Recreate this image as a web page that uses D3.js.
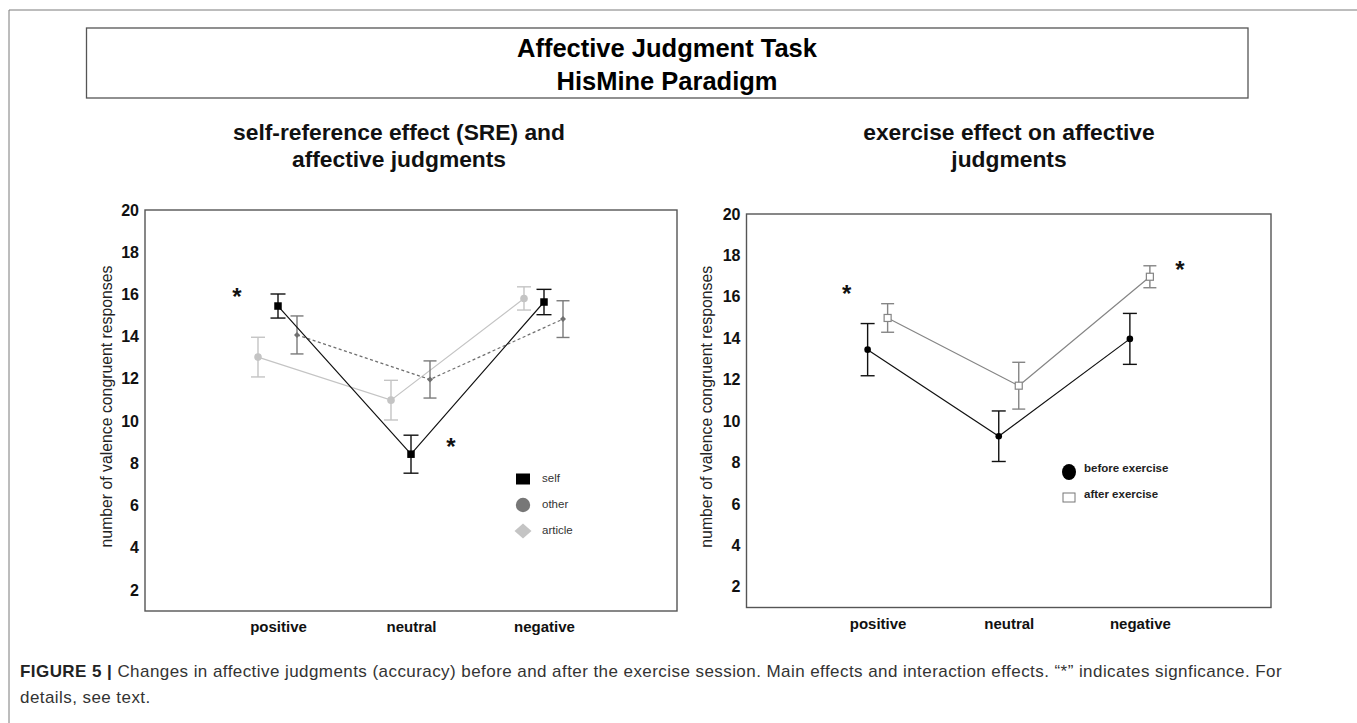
<!DOCTYPE html>
<html>
<head>
<meta charset="utf-8">
<script src="https://cdn.jsdelivr.net/npm/d3@7"></script>
<style>
  html, body { margin: 0; padding: 0; background: #fff; }
  svg { display: block; font-family: "Liberation Sans", Arial, Helvetica, sans-serif; }
</style>
</head>
<body>
<svg id="chart" width="1357" height="723"></svg>
<script>
// ---------- data ----------
const categories = ["positive", "neutral", "negative"];
const yTicks = [2, 4, 6, 8, 10, 12, 14, 16, 18, 20];

// left panel: self-reference effect
const selfMean = [15.45, 8.43, 15.64];
const selfErr = [0.57, 0.90, 0.60];
const otherMean = [14.08, 11.97, 14.83];
const otherErr = [0.90, 0.88, 0.87];
const articleMean = [13.03, 10.99, 15.81];
const articleErr = [0.94, 0.94, 0.55];

// right panel: exercise effect
const beforeMean = [13.45, 9.27, 13.97];
const beforeErr = [1.26, 1.22, 1.23];
const afterMean = [14.98, 11.71, 16.97];
const afterErr = [0.69, 1.13, 0.53];

// significance markers: [category, value, offset]
const leftStars = [["positive", 16.08, -41], ["neutral", 8.97, 40]];
const rightStars = [["positive", 16.32, -31], ["negative", 17.48, 40]];

const titleLines = ["Affective Judgment Task", "HisMine Paradigm"];
const leftSubtitle = ["self-reference effect (SRE) and", "affective judgments"];
const rightSubtitle = ["exercise effect on affective", "judgments"];
const yTitle = "number of valence congruent responses";

// ---------- setup ----------
const svg = d3.select("#chart");
const FONT = '"Liberation Sans", Arial, Helvetica, sans-serif';

// outer frame
svg.append("path").attr("d", "M9,723 V10 H1357").attr("fill", "none")
  .attr("stroke", "#7a7a7a").attr("stroke-width", 1);

// title box
svg.append("rect").attr("x", 86.5).attr("y", 28).attr("width", 1161.5).attr("height", 70)
  .attr("fill", "none").attr("stroke", "#555").attr("stroke-width", 1.3);
svg.selectAll("text.title").data(titleLines).join("text")
  .attr("class", "title")
  .attr("x", 667).attr("y", (d, i) => 57 + i * 33)
  .attr("text-anchor", "middle").attr("font-weight", "bold").attr("font-size", 25.5)
  .attr("fill", "#000").text(d => d);

function panel(opts) {
  const g = svg.append("g");
  const x = d3.scalePoint().domain(categories).range([opts.x0, opts.x1]).padding(1);
  const y = d3.scaleLinear().domain([1, 20]).range([opts.y1, opts.y0]);

  g.selectAll("text.sub").data(opts.subtitle).join("text")
    .attr("class", "sub")
    .attr("x", opts.subX).attr("y", (d, i) => 140 + i * 27)
    .attr("text-anchor", "middle").attr("font-weight", "bold").attr("font-size", 22.8)
    .attr("fill", "#111").text(d => d);

  g.append("rect").attr("x", opts.x0).attr("y", opts.y0)
    .attr("width", opts.x1 - opts.x0).attr("height", opts.y1 - opts.y0)
    .attr("fill", "none").attr("stroke", "#555").attr("stroke-width", 1.4);

  const ya = g.append("g").attr("transform", `translate(${opts.x0 - 6},0)`)
    .call(d3.axisLeft(y).tickValues(yTicks).tickSize(0).tickPadding(0));
  ya.select(".domain").remove();
  ya.selectAll("text").attr("font-family", FONT).attr("font-size", 16)
    .attr("font-weight", "bold").attr("fill", "#111");

  const xa = g.append("g").attr("transform", `translate(0,${opts.y1})`)
    .call(d3.axisBottom(x).tickSize(0).tickPadding(0));
  xa.select(".domain").remove();
  xa.selectAll("text").attr("font-family", FONT).attr("font-size", 15)
    .attr("font-weight", "bold").attr("fill", "#111")
    .attr("dy", null).attr("y", opts.labelDy);

  g.append("text")
    .attr("transform", `translate(${opts.yTitleX},${(opts.y0 + opts.y1) / 2 - 4}) rotate(-90)`)
    .attr("text-anchor", "middle").attr("dominant-baseline", "middle")
    .attr("font-size", 15.8).attr("fill", "#222").text(yTitle);

  return { g, x, y };
}

function drawSeries(p, s) {
  const pts = categories.map((c, i) => ({ cx: p.x(c) + s.dx, m: s.mean[i], e: s.err[i] }));
  const line = d3.line().x(d => d.cx).y(d => p.y(d.m));
  p.g.append("path").datum(pts).attr("d", line).attr("fill", "none")
    .attr("stroke", s.lineColor).attr("stroke-width", s.lineWidth || 1.2)
    .attr("stroke-dasharray", s.dash || null);
  const eb = p.g.append("g").attr("stroke", s.errColor).attr("stroke-width", 1.4).attr("fill", "none");
  pts.forEach(d => {
    eb.append("line").attr("x1", d.cx).attr("x2", d.cx).attr("y1", p.y(d.m - d.e)).attr("y2", p.y(d.m + d.e));
    eb.append("line").attr("x1", d.cx - s.cap).attr("x2", d.cx + s.cap).attr("y1", p.y(d.m + d.e)).attr("y2", p.y(d.m + d.e));
    eb.append("line").attr("x1", d.cx - s.cap).attr("x2", d.cx + s.cap).attr("y1", p.y(d.m - d.e)).attr("y2", p.y(d.m - d.e));
  });
  const mk = p.g.append("g");
  pts.forEach(d => s.marker(mk, d.cx, p.y(d.m)));
}

function stars(p, list) {
  p.g.selectAll("text.star").data(list).join("text").attr("class", "star")
    .attr("x", d => p.x(d[0]) + d[2]).attr("y", d => p.y(d[1]) + 12)
    .attr("text-anchor", "middle").attr("font-size", 24).attr("font-weight", "bold")
    .attr("fill", "#111").text("*");
}

// ---------- left panel ----------
const L = panel({ x0: 145, x1: 677, y0: 210, y1: 611, subX: 399, subtitle: leftSubtitle, yTitleX: 108, labelDy: 21 });

const squareMk = (size, fill, stroke) => (g, cx, cy) =>
  g.append("rect").attr("x", cx - size / 2).attr("y", cy - size / 2).attr("width", size).attr("height", size)
    .attr("fill", fill).attr("stroke", stroke || "none").attr("stroke-width", 1.2);
const circleMk = (r, fill) => (g, cx, cy) =>
  g.append("circle").attr("cx", cx).attr("cy", cy).attr("r", r).attr("fill", fill);
const diamondMk = (w, h, fill) => (g, cx, cy) =>
  g.append("path").attr("d", `M${cx},${cy - h / 2} L${cx + w / 2},${cy} L${cx},${cy + h / 2} L${cx - w / 2},${cy} Z`).attr("fill", fill);

drawSeries(L, { mean: articleMean, err: articleErr, dx: -20, lineColor: "#c4c4c4", errColor: "#c4c4c4", cap: 7, marker: circleMk(3.8, "#c4c4c4") });
drawSeries(L, { mean: otherMean, err: otherErr, dx: 19, lineColor: "#6e6e6e", errColor: "#7a7a7a", dash: "3,2.5", cap: 6.5, marker: diamondMk(6, 6, "#707070") });
drawSeries(L, { mean: selfMean, err: selfErr, dx: 0, lineColor: "#111", errColor: "#111", cap: 7.5, marker: squareMk(7.5, "#000") });
stars(L, leftStars);

// left legend
const legL = L.g.append("g");
const legLItems = [
  { label: "self", draw: (g, cx, cy) => g.append("rect").attr("x", cx - 7).attr("y", cy - 5.5).attr("width", 14).attr("height", 11).attr("fill", "#000") },
  { label: "other", draw: circleMk(7.2, "#777") },
  { label: "article", draw: diamondMk(17, 15, "#c4c4c4") }
];
legLItems.forEach((it, i) => {
  const cy = 479 + i * 26;
  it.draw(legL, 523, cy);
  legL.append("text").attr("x", 542).attr("y", cy).attr("dominant-baseline", "middle")
    .attr("font-size", 11.5).attr("fill", "#333").text(it.label);
});

// ---------- right panel ----------
const R = panel({ x0: 746.5, x1: 1271, y0: 214, y1: 607.5, subX: 1009, subtitle: rightSubtitle, yTitleX: 708, labelDy: 21 });

drawSeries(R, { mean: afterMean, err: afterErr, dx: 10, lineColor: "#858585", errColor: "#858585", cap: 6.5, marker: squareMk(7, "#fff", "#858585") });
drawSeries(R, { mean: beforeMean, err: beforeErr, dx: -10, lineColor: "#111", errColor: "#111", cap: 7, marker: circleMk(3.3, "#000") });
stars(R, rightStars);

const legR = R.g.append("g");
legR.append("ellipse").attr("cx", 1069).attr("cy", 472).attr("rx", 7).attr("ry", 8).attr("fill", "#000");
legR.append("text").attr("x", 1084).attr("y", 469).attr("dominant-baseline", "middle")
  .attr("font-size", 11.5).attr("font-weight", "bold").attr("fill", "#222").text("before exercise");
legR.append("rect").attr("x", 1063).attr("y", 493).attr("width", 12).attr("height", 9)
  .attr("fill", "#fff").attr("stroke", "#777").attr("stroke-width", 1);
legR.append("text").attr("x", 1084).attr("y", 495).attr("dominant-baseline", "middle")
  .attr("font-size", 11.5).attr("font-weight", "bold").attr("fill", "#222").text("after exercise");

// ---------- caption ----------
const CAP_SIZE = 17;
const cap = svg.append("text").attr("x", 20).attr("y", 677).attr("font-size", CAP_SIZE).attr("fill", "#333");
cap.append("tspan").attr("font-weight", "bold").attr("fill", "#222").text("FIGURE 5 | ");
cap.append("tspan").text("Changes in affective judgments (accuracy) before and after the exercise session. Main effects and interaction effects. \u201c*\u201d indicates signficance. For");
// stretch spacing slightly so the line spans the same width as in the figure
const targetW = 1262;
const natW = cap.node().getComputedTextLength();
const nChars = cap.text().length;
const ls = Math.max(0, (targetW - natW) / nChars);
cap.attr("letter-spacing", ls);
svg.append("text").attr("x", 20).attr("y", 703).attr("font-size", CAP_SIZE).attr("fill", "#333")
  .attr("letter-spacing", ls).text("details, see text.");
</script>
</body>
</html>
